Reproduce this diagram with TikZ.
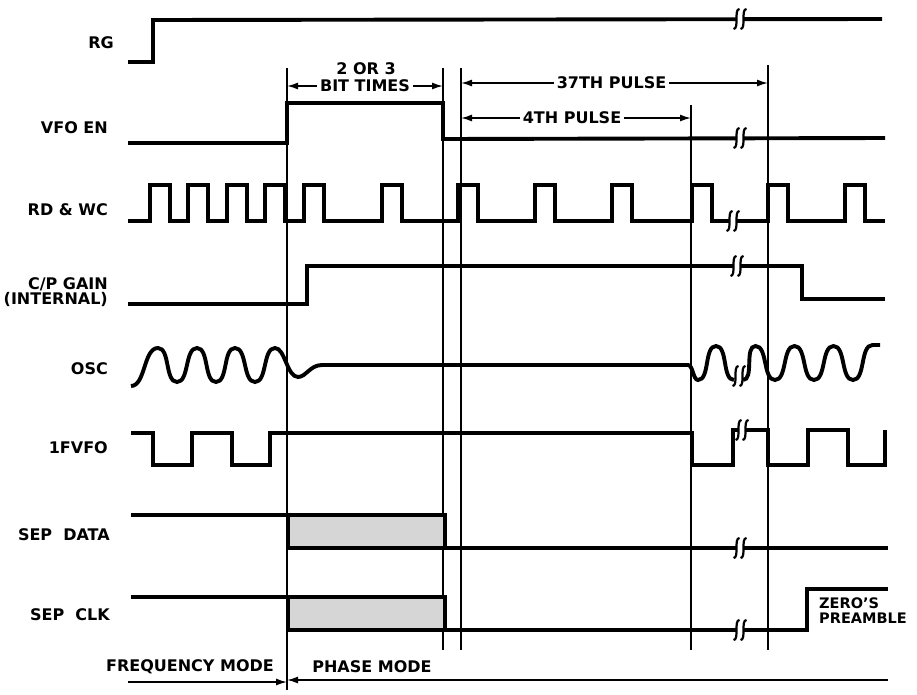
\documentclass[tikz,border=0pt]{standalone}
\usepackage{fontspec}
\setmainfont{DejaVu Sans}
\usetikzlibrary{arrows.meta}
\newcommand\sigbrk[2]{%
  \fill[white] (#1-3.5,#2-4) rectangle (#1+3.5,#2+4);
  \draw[brkline] (#1-6.5,#2+10) .. controls (#1-3.5,#2+10) and (#1-3.5,#2+5) .. (#1-3.5,#2) .. controls (#1-3.5,#2-5) and (#1-3.5,#2-10) .. (#1-0.5,#2-10);
  \draw[brkline] (#1+0.5,#2+10) .. controls (#1+3.5,#2+10) and (#1+3.5,#2+5) .. (#1+3.5,#2) .. controls (#1+3.5,#2-5) and (#1+3.5,#2-10) .. (#1+6.5,#2-10);
}
\begin{document}
\begin{tikzpicture}[x=1pt,y=-1pt,
  sig/.style={line width=3.9pt, line join=miter, line cap=butt},
  wv/.style={out=0, in=180, looseness=0.8},
  gridl/.style={line width=1.3pt},
  brkline/.style={line width=2.2pt},
  dimarr/.style={line width=1.5pt, {Latex[length=11pt,width=7pt]}-{Latex[length=11pt,width=7pt]}},
  onearr/.style={line width=1.5pt, -{Latex[length=11pt,width=7pt]}},
  lbl/.style={font=\fontsize{16}{14.5}\selectfont\bfseries, inner sep=0pt},
  dimlbl/.style={lbl, fill=white, inner xsep=3pt, inner ysep=1pt},
  shadebox/.style={fill=black!16}]
\useasboundingbox[fill=white] (0,0) rectangle (917,694);

% vertical reference lines
\coordinate (t1) at (287,68);  \coordinate (b1) at (287,690);
\coordinate (t2) at (443,68);  \coordinate (b2) at (443,650);
\coordinate (t3) at (461,68);  \coordinate (b3) at (461,650);
\coordinate (t4) at (691,105); \coordinate (b4) at (691,650);
\coordinate (t5) at (768,65);  \coordinate (b5) at (768,650);
\draw[gridl] (t1) -- (b1);
\draw[gridl] (t2) -- (b2);
\draw[gridl] (t3) -- (b3);
\draw[gridl] (t4) -- (b4);
\draw[gridl] (t5) -- (b5);

% shaded boxes
\fill[shadebox] (288,515) rectangle (445,548);
\fill[shadebox] (288,597) rectangle (445,630);

% labels
\node[lbl, anchor=east] (lrg) at (114,43) {RG};
\node[lbl, anchor=east] (lvfo) at (108,128) {VFO EN};
\node[lbl, anchor=east] (lrd) at (108,210) {RD \& WC};
\node[lbl, anchor=east, align=right] (lcp) at (108,292) {C/P GAIN\\(INTERNAL)};
\node[lbl, anchor=east] (losc) at (108,369) {OSC};
\node[lbl, anchor=east] (lff) at (108,448) {1FVFO};
\node[lbl, anchor=east] (lsd) at (110,535) {SEP\ \ DATA};
\node[lbl, anchor=east] (lsc) at (110,615) {SEP\ \ CLK};

% RG
\draw[sig] (128,62) -- (153,62) -- (153,20) -- (882,19);
\sigbrk{740}{19}
% VFO EN
\draw[sig] (128,143) -- (287,143) -- (287,103) -- (443,103) -- (443,139) -- (885,138);
\sigbrk{740}{138}
% RD & WC
\draw[sig] (128,221) foreach \r in {150,188,227,265,304,382,458,535,612,692,768,845} { -- (\r,221) -- (\r,185) -- (\r+20,185) -- (\r+20,221) } -- (885,221);
\sigbrk{733}{221}
% C/P GAIN
\draw[sig] (128,304) -- (307,304) -- (307,266) -- (802,266) -- (802,299) -- (885,299);
\sigbrk{737}{266}
% OSC
\draw[sig] (131,386) to[wv] (158,348) to[wv] (177,382) to[wv] (197,348) to[wv] (216,382)
  to[wv] (235,348) to[wv] (255,382) to[wv] (275,348)
  .. controls (285,348) and (287,377) .. (298,377)
  .. controls (306,377) and (310,365) .. (322,365) -- (688,365)
  .. controls (693,365) and (693,380) .. (698,380)
  to[wv] (716,346) to[wv] (734,380);
\draw[sig] (743,380) to[wv] (755.5,346) to[wv] (775,380) to[wv] (794.5,346) to[wv] (814,380)
  to[wv] (833.5,346) to[wv] (853,380) to[wv] (872.5,345) -- (880,345);
\sigbrk{739}{376}
% 1FVFO
\draw[sig] (131,433) -- (153,433) -- (153,465) -- (192,465) -- (192,433) -- (232,433) -- (232,465)
  -- (270,465) -- (270,433) -- (692,433) -- (692,465) -- (733,465) -- (733,430) -- (768,430)
  -- (768,465) -- (808,465) -- (808,430) -- (848,430) -- (848,465) -- (885,465) -- (885,430);
\sigbrk{742}{430}
% SEP DATA
\draw[sig] (131,515) -- (445,515) -- (445,548);
\draw[sig] (288,513.1) -- (288,548) -- (888,548);
\sigbrk{740}{548}
% SEP CLK
\draw[sig] (131,597) -- (445,597) -- (445,630);
\draw[sig] (288,595.1) -- (288,630) -- (807,630) -- (807,589) -- (888,589);
\sigbrk{740}{630}
\node[lbl, anchor=north west, align=left, font=\fontsize{14.5}{15}\selectfont\bfseries] (zp) at (819,598) {ZERO'S\\PREAMBLE};

% dimension arrows
\coordinate (d1a) at (287,86);  \coordinate (d1b) at (443,86);
\draw[dimarr] (d1a) -- node[dimlbl] (bt) {BIT TIMES} (d1b);
\node[lbl] (tw) at (366,69) {2 OR 3};
\coordinate (d2a) at (461,83);  \coordinate (d2b) at (768,83);
\draw[dimarr] (d2a) -- node[dimlbl, xshift=-3pt] (p37) {37TH PULSE} (d2b);
\coordinate (d3a) at (461,118); \coordinate (d3b) at (691,118);
\draw[dimarr] (d3a) -- node[dimlbl, xshift=-4pt] (p4) {4TH PULSE} (d3b);

% mode arrows
\coordinate (fa) at (128,682); \coordinate (fb) at (287,682);
\draw[onearr] (fa) -- (fb);
\coordinate (pa) at (888,680); \coordinate (pb) at (287,680);
\draw[onearr] (pa) -- (pb);
\node[lbl] (fm) at (190,667) {FREQUENCY MODE};
\node[lbl] (pm) at (372,667) {PHASE MODE};
\end{tikzpicture}
\end{document}
